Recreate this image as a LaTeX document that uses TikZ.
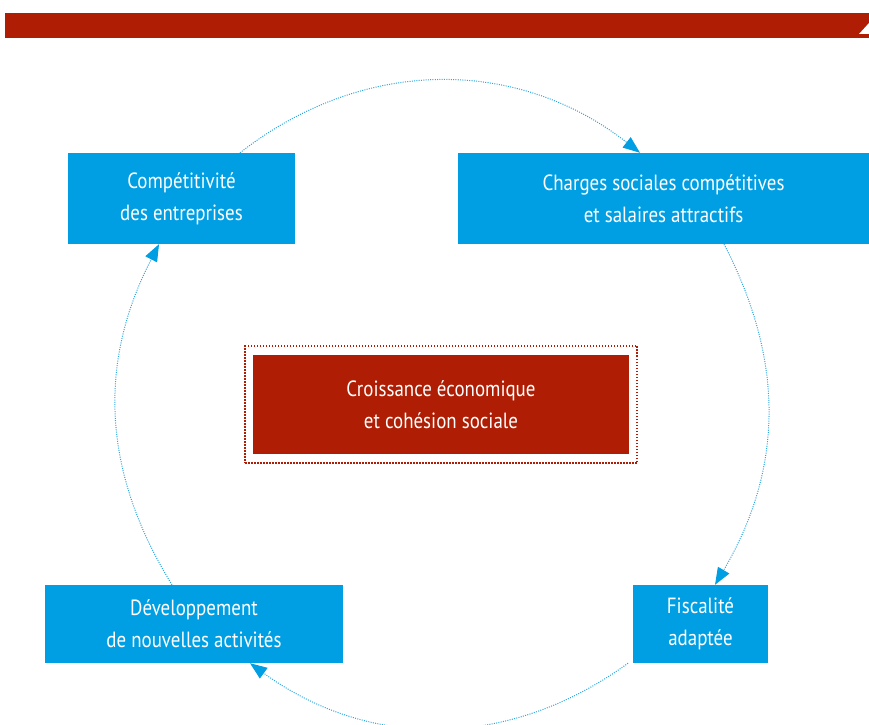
\documentclass[tikz,border=0pt]{standalone}
\usepackage{fontspec}
\setmainfont{PT Sans}[FakeStretch=0.86]
\usetikzlibrary{arrows.meta, positioning}
\definecolor{boxblue}{HTML}{009FE3}
\definecolor{brickred}{HTML}{AF1E04}
\definecolor{cycleblue}{HTML}{2BA6E0}

\begin{document}
\begin{tikzpicture}[
    x=1pt, y=1pt,
    every node/.style={font=\fontsize{22}{32}\selectfont, text=white, align=center},
    stage/.style={rectangle, fill=boxblue, inner sep=0pt},
    core/.style={rectangle, fill=brickred, minimum width=376pt, minimum height=99pt},
    coreframe/.style={rectangle, draw=brickred, line width=1.8pt, dash pattern=on 1.5pt off 1.5pt, minimum width=392pt, minimum height=117pt},
    cyclearrow/.style={-{Triangle[length=17pt, width=13pt, color=boxblue]}, cycleblue, line width=1pt, dash pattern=on 1pt off 1.3pt}
]
\useasboundingbox (0,0) rectangle (869,724);

% Top band
\fill[brickred] (5,686) rectangle (869,711);
\fill[white] (859,690) -- (869,701) -- (869,690) -- cycle;

\node[stage, minimum width=227pt, minimum height=91pt] (comp) at (181.5,525.5) {Compétitivité\\des entreprises};
\node[stage, minimum width=411pt, minimum height=91pt] (charges) at (663.5,525.5) {Charges sociales compétitives\\et salaires attractifs};
\node[stage, minimum width=135pt, minimum height=78pt] (fisc) at (700.5,100) {Fiscalité\\adaptée};
\node[stage, minimum width=298pt, minimum height=78pt] (dev) at (194,100) {Développement\\de nouvelles activités};

\node[coreframe] (frame) at (441,319.5) {};
\node[core] (center) at (441,319.5) {Croissance économique\\et cohésion sociale};

% Cycle
\draw[cyclearrow] ([xshift=58.5pt]comp.north) to[bend left=38] ([xshift=-23.5pt]charges.north);
\draw[cyclearrow] ([xshift=60.5pt]charges.south) to[bend left=29] ([xshift=14.5pt]fisc.north);
\draw[cyclearrow] ([xshift=-72.5pt]fisc.south) to[bend left=36] ([xshift=56pt]dev.south);
\draw[cyclearrow] ([xshift=-22pt]dev.north) to[bend left=29.5] ([xshift=-22.5pt]comp.south);

\end{tikzpicture}
\end{document}
